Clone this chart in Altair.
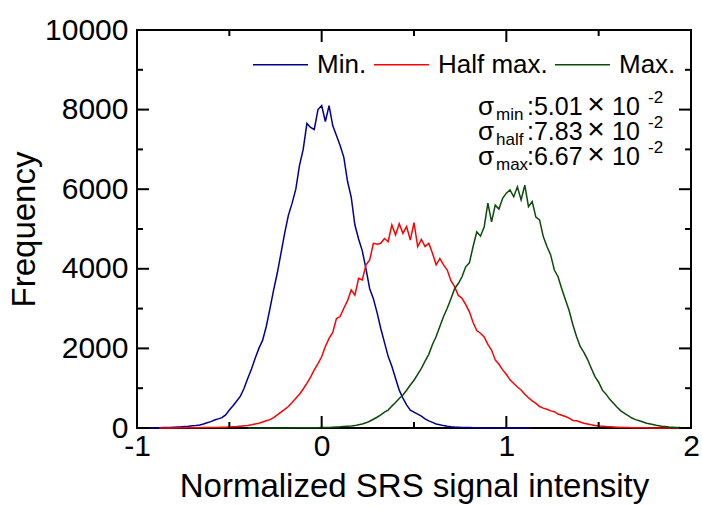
import altair as alt
import pandas as pd

# ---------------- data (histogram counts, bin width 0.02) ----------------
bin_width = 0.02
series_names = ["Min.", "Half max.", "Max."]
series_colors = ["#000090", "#FF0000", "#0A4A0A"]

min_start = -1.00
min_counts = [
    0, 0, 0, 0, 5, 0, 5, 10, 10, 15,
    20, 25, 30, 40, 45, 55, 60, 75, 100, 130,
    160, 200, 230, 260, 330, 450, 560, 680, 800, 1000,
    1250, 1480, 1750, 2000, 2200, 2550, 3000, 3470, 3900, 4400,
    4900, 5350, 5650, 6000, 6600, 7000, 7650, 7550, 7500, 8000,
    8100, 7700, 8100, 7600, 7350, 7100, 6800, 6200, 5800, 5100,
    4750, 4450, 4000, 3500, 3250, 2900, 2500, 2150, 1800, 1550,
    1250, 950, 750, 580, 450, 400, 350, 300, 230, 180,
    140, 100, 80, 60, 45, 33, 25, 20, 15, 10,
    10, 8, 5, 5, 3, 3, 2, 2, 0, 0,
    0, 0, 0, 0, 0, 0, 0, 0,
]

half_start = -0.88
half_counts = [
    0, 3, 3, 3, 3, 5, 5, 5, 5, 8,
    8, 8, 10, 10, 12, 12, 15, 18, 20, 25,
    30, 35, 45, 55, 65, 80, 100, 120, 150, 180,
    210, 260, 330, 400, 470, 540, 640, 750, 850, 980,
    1120, 1280, 1460, 1620, 1790, 2050, 2250, 2400, 2750, 2800,
    3010, 3200, 3470, 3340, 3760, 3720, 4100, 4220, 4640, 4620,
    4640, 4760, 4680, 5100, 4850, 5130, 4890, 5060, 4720, 5160,
    4560, 4740, 4560, 4640, 4390, 4100, 4260, 4100, 3970, 3700,
    3550, 3330, 3260, 3100, 2920, 2650, 2450, 2380, 2290, 2100,
    1960, 1710, 1600, 1460, 1350, 1210, 1120, 1030, 955, 850,
    760, 680, 620, 540, 500, 470, 430, 410, 350, 320,
    290, 250, 190, 180, 150, 120, 100, 80, 65, 50,
    45, 35, 30, 25, 20, 15, 12, 10, 8, 5,
    5, 4, 4, 3, 3, 2, 2, 2, 1, 1,
    1, 1, 0, 0, 0,
]

max_start = -0.40
max_counts = [
    0, 1, 1, 1, 1, 2, 2, 2, 2, 3,
    3, 3, 4, 4, 5, 5, 6, 6, 8, 8,
    10, 12, 15, 20, 25, 30, 40, 45, 50, 60,
    80, 100, 130, 170, 220, 270, 330, 400, 450, 550,
    640, 740, 830, 950, 1080, 1200, 1350, 1500, 1680, 1850,
    2100, 2300, 2550, 2800, 3010, 3250, 3500, 3630, 3800, 4050,
    4150, 4560, 4930, 4820, 5050, 5650, 5180, 5600, 5500, 5770,
    5900, 5980, 5810, 6060, 5730, 6100, 5560, 5690, 5300, 5230,
    4810, 4560, 4350, 3970, 3800, 3500, 3220, 2950, 2600, 2300,
    2050, 1900, 1720, 1500, 1290, 1150, 950, 850, 720, 620,
    520, 430, 370, 310, 250, 210, 180, 150, 120, 100,
    80, 60, 45, 35, 25, 20, 15, 10, 8, 5,
    3,
]

x_major = [-1, 0, 1, 2]
x_minor = [-0.5, 0.5, 1.5]
y_major = [0, 2000, 4000, 6000, 8000, 10000]
y_minor = [1000, 3000, 5000, 7000, 9000]

sigma_labels = ["min", "half", "max"]
sigma_values = [":5.01", ":7.83", ":6.67"]

rows = []
for name, start, counts in zip(series_names,
                               [min_start, half_start, max_start],
                               [min_counts, half_counts, max_counts]):
    for i, c in enumerate(counts):
        rows.append({"series": name, "x": round(start + i * bin_width, 3), "count": c})
df = pd.DataFrame(rows)

# ---------------- layout ----------------
W, H = 554, 398
FONT = "Liberation Sans"
xscale = alt.Scale(domain=[-1, 2], nice=False, zero=False)
yscale = alt.Scale(domain=[0, 10000], nice=False)

xaxis = alt.Axis(values=x_major, title="Normalized SRS signal intensity",
                 labelExpr="'' + datum.value", ticks=False, tickSize=0,
                 domain=False, grid=False, labelFlush=False, labelOverlap=False,
                 labelFont=FONT, labelFontSize=30, labelColor="black", labelPadding=3,
                 titleFont=FONT, titleFontSize=33, titleFontWeight="normal",
                 titleColor="black", titlePadding=9)
yaxis = alt.Axis(values=y_major, title="Frequency",
                 labelExpr="'' + datum.value", ticks=False, tickSize=0,
                 domain=False, grid=False, labelOverlap=False,
                 labelFont=FONT, labelFontSize=30, labelColor="black", labelPadding=9,
                 titleFont=FONT, titleFontSize=33, titleFontWeight="normal",
                 titleColor="black", titlePadding=3)

lines = alt.Chart(df).mark_line(strokeWidth=1.5, interpolate="linear").encode(
    x=alt.X("x:Q", scale=xscale, axis=xaxis),
    y=alt.Y("count:Q", scale=yscale, axis=yaxis),
    color=alt.Color("series:N",
                    scale=alt.Scale(domain=series_names, range=series_colors),
                    legend=alt.Legend(orient="none", legendX=115, legendY=6,
                                      direction="horizontal", title=None,
                                      symbolType="stroke", symbolSize=3025,
                                      symbolStrokeWidth=1.5, labelFont=FONT,
                                      labelFontSize=26, labelColor="black",
                                      labelOffset=8, columnPadding=4, padding=0)),
    detail="series:N",
    order="x:Q",
)

def ticks_x(vals, length, top):
    d = pd.DataFrame({"x": vals})
    y0 = 0 if top else H
    y1 = length if top else H - length
    return alt.Chart(d).mark_rule(color="black", strokeWidth=2).encode(
        x=alt.X("x:Q", scale=xscale, axis=xaxis),
        y=alt.value(y0), y2=alt.value(y1))

def ticks_y(vals, length, right):
    d = pd.DataFrame({"count": vals})
    x0 = W if right else 0
    x1 = W - length if right else length
    return alt.Chart(d).mark_rule(color="black", strokeWidth=2).encode(
        y=alt.Y("count:Q", scale=yscale, axis=yaxis),
        x=alt.value(x0), x2=alt.value(x1))

tick_layers = [
    ticks_x(x_major, 12, False), ticks_x(x_minor, 6, False),
    ticks_x(x_major, 12, True), ticks_x(x_minor, 6, True),
    ticks_y(y_major, 12, False), ticks_y(y_minor, 6, False),
    ticks_y(y_major, 12, True), ticks_y(y_minor, 6, True),
]

def txt(s, x, y, size, align="left"):
    return alt.Chart(pd.DataFrame({"t": [s]})).mark_text(
        font=FONT, fontSize=size, color="black", align=align, baseline="alphabetic"
    ).encode(text="t:N", x=alt.value(x), y=alt.value(y))

ann = []
for i, (lab, val) in enumerate(zip(sigma_labels, sigma_values)):
    base = 85 + 25 * i
    ann.append(txt("σ", 341, base, 26))
    ann.append(txt(lab, 359, base + 5, 17))
    ann.append(txt(val, 390, base, 25))
    ann.append(txt("×", 459, base - 1, 30, align="center"))
    ann.append(txt("10", 475, base, 25))
    ann.append(txt("-2", 511, base - 12, 17))

chart = alt.layer(lines, *tick_layers, *ann).properties(
    width=W, height=H,
    background="white",
    autosize=alt.AutoSizeParams(type="none"),
    padding={"left": 137, "top": 30, "right": 11, "bottom": 78},
).configure_view(stroke="black", strokeWidth=2)

chart.save("out.html", embed_options={"renderer": "svg", "actions": False})
